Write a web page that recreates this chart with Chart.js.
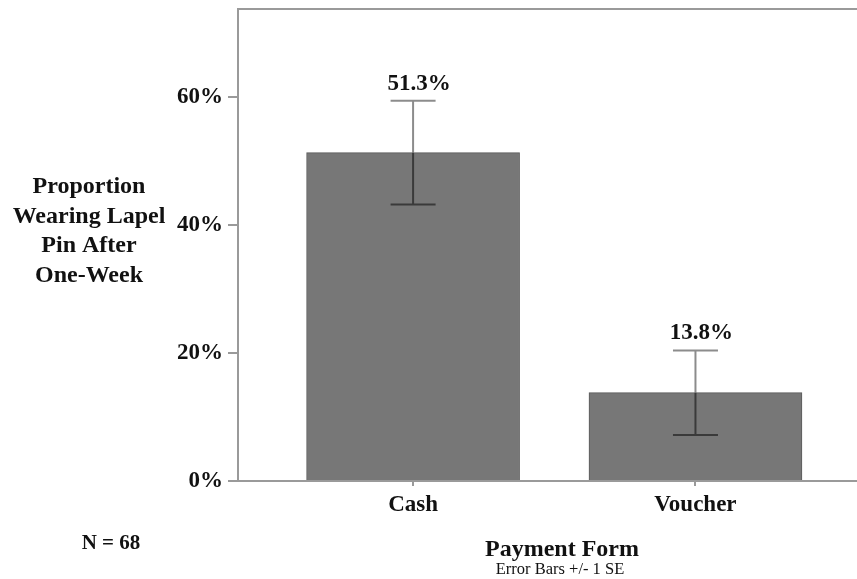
<!DOCTYPE html>
<html>
<head>
<meta charset="utf-8">
<script src="https://cdn.jsdelivr.net/npm/chart.js@4.4.1/dist/chart.umd.min.js"></script>
<style>
  html, body { margin: 0; padding: 0; background: #fff; overflow: hidden; }
  #wrap { width: 857px; height: 579px; position: relative; }
</style>
</head>
<body>
<div id="wrap"><canvas id="c" width="857" height="579"></canvas></div>
<script>
// ---- Data ----
const categories = ['Cash', 'Voucher'];
const proportions = [51.3, 13.8];          // percent
const standardErrors = [8.1, 6.6];         // percent, +/- 1 SE
const yTickValues = [0, 20, 40, 60];
const yAxisTitleLines = ['Proportion', 'Wearing Lapel', 'Pin After', 'One-Week'];
const xAxisTitle = 'Payment Form';
const xAxisSubtitle = 'Error Bars +/- 1 SE';
const sampleNote = 'N = 68';

const SERIF = '"Liberation Serif", "Times New Roman", serif';
const AXIS_GRAY = '#9a9a9a';

const errorBarPlugin = {
  id: 'errorBars',
  afterDatasetsDraw(chart) {
    const ctx = chart.ctx;
    const xs = chart.scales.x, ys = chart.scales.y;
    ctx.save();
    proportions.forEach((v, i) => {
      const x = xs.getPixelForValue(i);
      const yTop = ys.getPixelForValue(v + standardErrors[i]);
      const yBot = ys.getPixelForValue(v - standardErrors[i]);
      const yBar = ys.getPixelForValue(v);
      const cap = 22.5;
      ctx.lineWidth = 2;
      ctx.strokeStyle = '#8c8c8c';
      ctx.beginPath(); ctx.moveTo(x, yTop); ctx.lineTo(x, yBar); ctx.stroke();
      ctx.beginPath(); ctx.moveTo(x - cap, yTop); ctx.lineTo(x + cap, yTop); ctx.stroke();
      ctx.strokeStyle = '#3a3a3a';
      ctx.beginPath(); ctx.moveTo(x, yBar); ctx.lineTo(x, yBot); ctx.stroke();
      ctx.beginPath(); ctx.moveTo(x - cap, yBot); ctx.lineTo(x + cap, yBot); ctx.stroke();
      ctx.fillStyle = '#111';
      ctx.font = 'bold 23px ' + SERIF;
      ctx.textAlign = 'center';
      ctx.textBaseline = 'middle';
      ctx.fillText(v.toFixed(1) + '%', x + 6, yTop - 17);
    });
    ctx.restore();
  }
};

const annotationsPlugin = {
  id: 'extraText',
  afterDraw(chart) {
    const ctx = chart.ctx;
    const area = chart.chartArea;
    ctx.save();
    ctx.strokeStyle = AXIS_GRAY;
    ctx.lineWidth = 2;
    ctx.beginPath(); ctx.moveTo(area.left - 1, area.top); ctx.lineTo(area.right, area.top); ctx.stroke();
    ctx.fillStyle = '#111';
    ctx.textAlign = 'center';
    ctx.textBaseline = 'middle';
    ctx.font = 'bold 24px ' + SERIF;
    yAxisTitleLines.forEach((t, k) => ctx.fillText(t, 89, 187 + k * 29.5));
    ctx.font = 'bold 24px ' + SERIF;
    ctx.fillText(xAxisTitle, 562, 550);
    ctx.font = '16.5px ' + SERIF;
    ctx.fillText(xAxisSubtitle, 560, 570);
    ctx.font = 'bold 21px ' + SERIF;
    ctx.fillText(sampleNote, 111, 544);
    ctx.restore();
  }
};

new Chart(document.getElementById('c'), {
  type: 'bar',
  data: {
    datasets: [{
      data: proportions.map((v, i) => ({ x: i, y: v })),
      backgroundColor: '#777777',
      borderColor: '#5a5a5a',
      borderWidth: 1,
      barThickness: 213
    }]
  },
  options: {
    responsive: false,
    animation: false,
    devicePixelRatio: 1,
    layout: { padding: { top: 9, right: 0, left: 0, bottom: 0 } },
    plugins: { legend: { display: false }, tooltip: { enabled: false } },
    scales: {
      x: {
        type: 'linear',
        offset: false,
        min: -0.62,
        max: 1.572,
        afterBuildTicks(scale) { scale.ticks = categories.map((c, i) => ({ value: i })); },
        afterFit(scale) { scale.height = 98; scale.paddingLeft = 0; scale.paddingRight = 0; },
        ticks: {
          callback: (v) => categories[v],
          font: { family: SERIF, size: 23, weight: 'bold' },
          color: '#111',
          padding: 5,
          maxRotation: 0,
          autoSkip: false
        },
        grid: { drawOnChartArea: false, drawTicks: true, tickLength: 5, color: AXIS_GRAY, lineWidth: 2, offset: false },
        border: { display: true, color: AXIS_GRAY, width: 2 }
      },
      y: {
        min: 0,
        max: 73.75,
        afterBuildTicks(scale) { scale.ticks = yTickValues.map(v => ({ value: v })); },
        afterFit(scale) { scale.width = 238; scale.paddingTop = 0; scale.paddingBottom = 0; },
        ticks: {
          callback: (v) => v + '%',
          font: { family: SERIF, size: 23, weight: 'bold' },
          color: '#111',
          padding: 5
        },
        grid: { drawOnChartArea: false, drawTicks: true, tickLength: 10, color: AXIS_GRAY, lineWidth: 2 },
        border: { display: true, color: AXIS_GRAY, width: 2 }
      }
    }
  },
  plugins: [errorBarPlugin, annotationsPlugin]
});
</script>
</body>
</html>
